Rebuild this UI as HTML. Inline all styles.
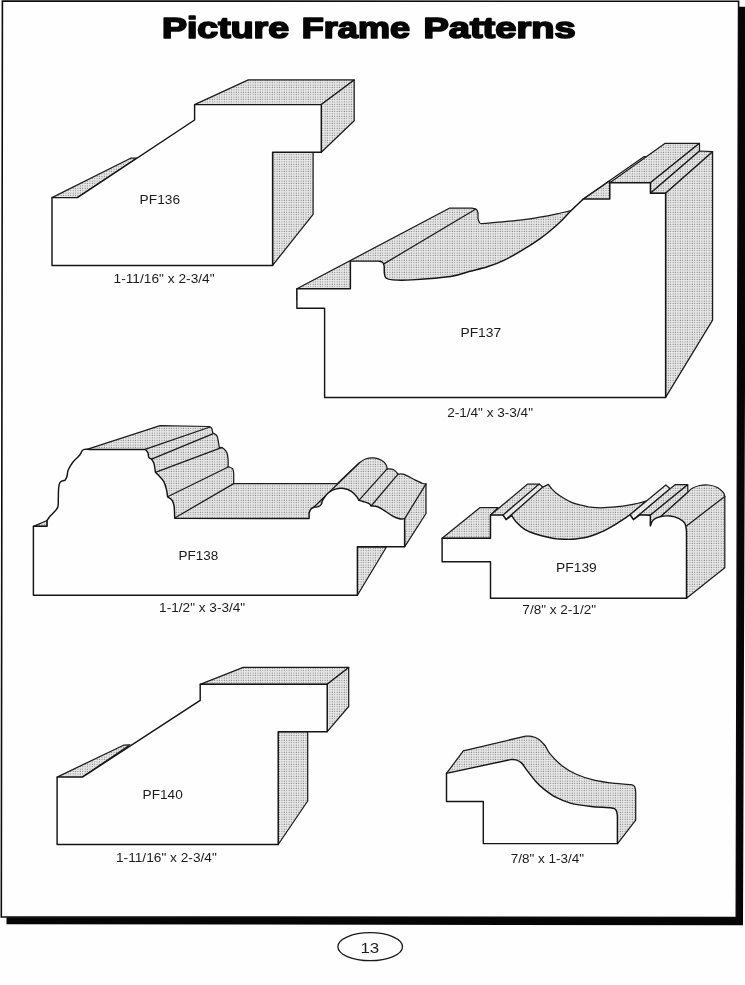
<!DOCTYPE html>
<html lang="en">
<head>
<meta charset="utf-8">
<title>Picture Frame Patterns</title>
<style>
html,body{margin:0;padding:0;background:#fefefe;}
body{width:745px;height:985px;overflow:hidden;position:relative;font-family:"Liberation Sans",sans-serif;}
svg{position:absolute;left:0;top:0;display:block;filter:grayscale(1);}
.g{fill:url(#ht);stroke:#1c1c1c;stroke-width:1.25;stroke-linejoin:round;}
.lg{fill:url(#htl);stroke:#1c1c1c;stroke-width:1.25;stroke-linejoin:round;}
.w{fill:#fefefe;stroke:#151515;stroke-width:1.45;stroke-linejoin:round;}
.ln{fill:none;stroke:#1c1c1c;stroke-width:1.25;stroke-linecap:round;stroke-linejoin:round;}
text{font-family:"Liberation Sans",sans-serif;fill:#1c1c1c;}
.title text{font-weight:bold;fill:#050505;stroke:#050505;stroke-width:1.7;stroke-linejoin:round;}
</style>
</head>
<body>
<svg width="745" height="985" viewBox="0 0 745 985">
<defs>
<pattern id="ht" width="2.4" height="2.4" patternUnits="userSpaceOnUse">
<rect width="2.4" height="2.4" fill="#eaeaea"/>
<rect x="0.6" y="0.6" width="1.05" height="1.05" fill="#7c7c7c"/>
</pattern>
<pattern id="htl" width="2.4" height="2.4" patternUnits="userSpaceOnUse">
<rect width="2.4" height="2.4" fill="#f3f3f3"/>
<rect x="0.6" y="0.6" width="1" height="1" fill="#b4b4b4"/>
</pattern>
</defs>
<!-- page frame with drop shadow -->
<polygon points="738.8,6.8 746.4,6.8 743,925.2 6.5,924.2 6.5,917.2 736.2,917.6" fill="#060606"/>
<polygon points="2.4,1.1 738.6,1.3 736.3,917.5 1.3,917" fill="#fefefe" stroke="#0c0c0c" stroke-width="1.6"/>
<!-- title -->
<g class="title">
<text x="161.9" y="37.8" textLength="127.16" lengthAdjust="spacingAndGlyphs" font-size="29.5">Picture</text>
<text x="301.84" y="37.8" textLength="108.16" lengthAdjust="spacingAndGlyphs" font-size="29.5">Frame</text>
<text x="423.4" y="37.8" textLength="152.22" lengthAdjust="spacingAndGlyphs" font-size="29.5">Patterns</text>
</g>
<!-- moulding profiles -->
<!-- PF136 -->
<path class="g" d="M52,197.6 L130.6,158.2 L136.6,158.2 L77.4,197.6 Z"/>
<path class="g" d="M194.6,104.6 L248.3,79.9 L354.2,79.9 L321.3,104.6 Z"/>
<path class="g" d="M321.3,104.6 L354.2,79.9 L354.2,120.8 L321.3,152.3 Z"/>
<path class="g" d="M272.6,152.3 L313.1,152.3 L313.1,214.3 L272.6,265.4 Z"/>
<path class="w" d="M52,265.4 L52,197.6 L77.4,197.6 L194.6,120 L194.6,104.6 L321.3,104.6 L321.3,152.3 L272.6,152.3 L272.6,265.4 Z"/>
<!-- PF140 -->
<path class="g" d="M57.1,777.1 L123.5,745.2 L130,744.8 L82.4,777.1 Z"/>
<path class="g" d="M200.2,684.3 L243.2,667.4 L348.7,667.4 L327.2,684.3 Z"/>
<path class="g" d="M327.2,684.3 L348.7,667.4 L348.7,706.5 L327.2,731.7 Z"/>
<path class="g" d="M278.2,731.7 L307.7,731.7 L307.7,801 L278.2,844.5 Z"/>
<path class="w" d="M57.1,844.5 L57.1,777.1 L82.4,777.1 L200.2,700.4 L200.2,684.3 L327.2,684.3 L327.2,731.7 L278.2,731.7 L278.2,844.5 Z"/>
<!-- PF137 -->
<path class="g" d="M296.9,288.8 L449.3,208.2 L472,208.2 C472.8,208.4 475.5,208.7 476.5,209.5 C477.5,210.3 477.8,212.4 478,213 L478,218.5 C478.2,219.1 478.5,221.5 479.3,222.3 C480.1,223.1 478.7,223.6 483,223.5 C487.3,223.4 498.3,222.2 504.9,221.6 C511.4,221 516.5,220.6 522.3,219.9 C528.1,219.2 534,218.2 539.8,217.2 C545.6,216.2 552,214.9 557.2,213.8 C562.4,212.7 568.9,211.1 571.2,210.6 L583.3,199.1 L583.3,300 L296.9,300 Z"/>
<path class="ln" d="M384.3,263.6 L475.5,209.2"/>
<path class="g" d="M583.3,199.1 L609.8,180.8 L609.8,199.1 Z"/>
<path class="ln" d="M583.3,199.1 L644.2,156.6 L647.5,156.6"/>
<path class="g" d="M609.8,182.7 L665.2,143.3 L699.5,143.3 L650.4,182.7 Z"/>
<path class="g" d="M650.4,182.7 L699.5,143.3 L699.5,151 L650.4,193.3 Z"/>
<path class="g" d="M650.4,193.3 L699.5,151 L712.6,151.7 L665.6,193.3 Z"/>
<path class="g" d="M665.6,193.3 L712.6,151.7 L712.6,320.1 L665.6,397.4 Z"/>
<path class="w" d="M324.6,397.4 L324.6,308.2 L296.9,308.2 L296.9,288.8 L350.4,288.8 L350.4,261.1 L378.4,261.1 C379.1,261.3 381.5,261.5 382.5,262.3 C383.5,263.1 383.9,265.4 384.2,266 L384.3,273 C384.6,273.8 384.6,276.9 386,278 C387.4,279.1 388.3,279.6 392.6,279.9 C396.9,280.2 402.2,280.5 411.9,279.9 C421.5,279.3 440.8,277.9 450.5,276.5 C460.2,275.1 463.9,272.9 470,271.3 C476.1,269.7 481.6,268.7 487.4,266.8 C493.2,264.9 499.1,262.6 504.9,259.8 C510.7,257 516.5,253.7 522.3,250.2 C528.1,246.7 534.8,242.4 539.8,238.9 C544.8,235.4 548.2,232.5 552,229.3 C555.8,226.1 559.3,222.8 562.5,219.7 C565.7,216.6 567.7,214 571.2,210.6 C574.7,207.2 581.3,201 583.3,199.1 L609.8,199.1 L609.8,182.7 L650.4,182.7 L650.4,193.3 L665.6,193.3 L665.6,397.4 Z"/>
<!-- PF138 -->
<path class="g" d="M33.4,526.3 L47.1,520.5 L47.1,526.3 Z"/>
<path class="g" d="M87,449.4 L160.1,425.7 L208.9,426.5 C209.4,426.8 211.1,427.1 211.7,428.2 C212.3,429.3 212.5,432.1 212.7,432.9 C213.4,433.4 215.9,434.3 216.8,435.7 C217.7,437.1 217.9,439.4 218.3,441.3 C218.7,443.2 219.1,446.3 219.3,447.3 C220,447.5 222.2,447.6 223.5,448.5 C224.8,449.4 226,450.8 226.8,452.6 C227.6,454.4 227.9,456.9 228.1,459.2 C228.3,461.5 228.1,465.4 228.1,466.7 C228.8,467 231.7,467.5 232.6,468.6 C233.5,469.7 233.5,472.5 233.7,473.3 L233.7,483.6 L337.3,483.6 L358.9,463.2 C360,462.5 363,459.9 365.5,459 C368,458.1 371.2,457.7 373.9,457.9 C376.6,458.1 379.4,459.1 381.5,460.3 C383.6,461.5 385.3,463.6 386.2,465 C387.1,466.4 387,468.2 387.1,468.8 C388.2,468.9 391.9,468.8 393.7,469.7 C395.5,470.6 397.3,473.4 398,474.1 C399,474.2 401.1,473.4 404,474.4 C406.9,475.4 412.2,478.6 415.3,480.1 C418.4,481.6 421,482.9 422.8,483.5 C424.6,484.1 425.5,483.8 426,483.8 L426,513.5 L404.6,546.8 L404.6,530 L87,530 Z"/>
<path class="ln" d="M145,449.4 L210,427"/>
<path class="ln" d="M151.6,459.2 L212.7,433.8"/>
<path class="ln" d="M155.4,472.3 L222.1,447.3"/>
<path class="ln" d="M167.6,496.8 L228.7,466.7"/>
<path class="ln" d="M174.7,518 L233.7,483.6"/>
<path class="ln" d="M313.8,507.3 L358.9,463.2"/>
<path class="ln" d="M358.9,500.4 L387.1,468.8"/>
<path class="ln" d="M371.1,506 L398,474.1"/>
<path class="ln" d="M404.6,518.8 L426,483.8"/>
<path class="g" d="M357.4,546.8 L386.6,546.8 L357.4,595.2 Z"/>
<path class="w" d="M33.4,595.2 L33.4,526.3 L47.1,526.3 L47.1,520.5 C47.5,519.8 48.5,518 49.8,516.5 C51,515 53.2,513.2 54.6,511.6 C56,510 57.3,508.9 57.9,506.8 C58.5,504.7 58.2,502 58.3,498.8 C58.4,495.6 58.4,490.3 58.7,487.5 C59,484.7 59.2,483.1 60.3,481.9 C61.4,480.7 64.3,480.5 65.1,480.2 C65.4,479.5 66.5,477.9 67,476.2 C67.5,474.5 67.3,472.2 68.3,469.8 C69.3,467.4 71.3,464.1 73.2,461.7 C75.1,459.3 78.1,457.1 79.6,455.3 C81.1,453.5 81.6,451.6 82,450.8 C82.4,450.6 83.2,449.6 84.4,449.4 C85.6,449.2 88.5,449.4 89.3,449.4 L145,449.4 C145.5,449.9 147.3,451.3 147.9,452.6 C148.5,453.9 148.2,456.2 148.8,457.3 C149.4,458.4 151.1,458.9 151.6,459.2 C152,460 153.5,461.7 154.1,463.9 C154.7,466.1 155.2,470.9 155.4,472.3 C155.9,472.8 156.8,473.5 158.2,475.1 C159.6,476.7 162.4,479.2 163.8,481.7 C165.2,484.2 166,487.7 166.6,490.2 C167.2,492.7 167.4,495.7 167.6,496.8 C168.4,497.4 171.2,498.8 172.3,500.5 C173.4,502.2 173.8,504.1 174.2,507.1 C174.6,510.1 174.6,516.4 174.7,518.3 L309.1,518.5 L309.1,513 C309.4,512.3 310.2,509.9 311,509 C311.8,508.1 312.6,507.7 313.8,507.3 C315.1,506.9 317.2,507.2 318.5,506.6 C319.8,506.1 320.9,505 321.5,504 C322.1,503 322.2,501.2 322.3,500.7 C323.2,499.4 325.7,495.1 327.9,493.2 C330.1,491.3 332.7,489.9 335.4,489.1 C338.1,488.3 341.2,488.1 343.9,488.5 C346.6,488.9 349.2,489.9 351.4,491.3 C353.6,492.7 355.8,495.5 357,497 C358.2,498.5 358.6,499.8 358.9,500.4 C359.7,500.6 361.9,501.2 363.6,501.7 C365.3,502.2 367.9,502.9 369.2,503.6 C370.4,504.3 370.8,505.6 371.1,506 C372.2,506.1 375.4,505.9 377.7,506.8 C380,507.7 382.7,509.5 385.2,511.1 C387.7,512.7 390.3,514.9 392.7,516.2 C395.1,517.5 397.3,518.4 399.3,518.8 C401.3,519.2 403.7,518.8 404.6,518.8 L404.6,546.8 L357.4,546.8 L357.4,595.2 Z"/>
<!-- PF139 -->
<path class="g" d="M442.1,538.3 L480.1,507.5 L498.2,507.5 L490.5,515.1 L490.5,538.3 Z"/>
<path class="g" d="M490.5,515.1 L527.7,484.1 L539.2,484.1 L503,515.1 Z"/>
<path class="lg" d="M503,515.1 L539.2,484.1 L542.8,487.1 L506,519.7 Z"/>
<path class="g" d="M506,519.7 L542.8,487.1 L548.4,484.4 C548.9,485.1 550.2,487.1 551.5,488.5 C552.8,489.9 554,491.2 556.1,492.9 C558.2,494.6 561.5,496.9 564.2,498.5 C566.9,500.1 569.5,501.5 572.2,502.6 C574.9,503.7 577.6,504.3 580.3,505 C583,505.7 585.6,506.4 588.3,506.9 C591,507.3 593.7,507.6 596.4,507.7 C599.1,507.8 601.7,507.8 604.4,507.7 C607.1,507.6 609.8,507.4 612.5,507.2 C615.2,507 617.8,506.7 620.5,506.4 C623.2,506.1 625.9,505.7 628.6,505.2 C631.3,504.7 634.4,504 636.7,503.5 C639.1,503 641.1,502.6 642.7,502.2 C644.3,501.8 645.9,501.2 646.5,501 L630,514.7 L630,545 L506,545 Z"/>
<path class="lg" d="M630,514.7 L665.8,485 L670.1,488.7 L633.4,519.7 Z"/>
<path class="g" d="M633.4,519.7 L670.1,488.7 L675.2,484.7 L687.7,484.7 L650.3,515.2 L639.9,514.9 Z"/>
<path class="g" d="M650.3,515.2 L687.7,484.7 L687.9,492.2 L650.3,526 Z"/>
<path class="g" d="M650.3,526 L687.9,492.2 C688.6,491.6 690.3,489.4 692.3,488.3 C694.3,487.2 697,486.1 699.7,485.5 C702.4,484.9 705.7,484.7 708.6,485 C711.5,485.3 714.9,486.2 717.4,487.5 C719.9,488.8 722.2,491.2 723.4,492.7 C724.6,494.2 724.6,495.8 724.8,496.4 L724.8,567.7 L686.5,598.2 L686.5,560 L650.3,560 Z"/>
<path class="ln" d="M686.5,525.9 L724.8,496.4"/>
<path class="w" d="M490.5,598.2 L490.5,561.7 L442.1,561.7 L442.1,538.3 L490.5,538.3 L490.5,515.1 L503,515.1 L506,519.7 L511.7,515.5 C512.5,516.6 514,519.8 516.2,522.1 C518.4,524.4 521.5,527.4 524.7,529.4 C527.9,531.4 531.7,532.7 535.6,534 C539.5,535.3 544.7,536.4 548.1,537.2 C551.5,538 553.4,538.4 556.1,538.8 C558.8,539.1 561.5,539.2 564.2,539.3 C566.9,539.4 569.5,539.5 572.2,539.3 C574.9,539.1 577.6,538.7 580.3,538.3 C583,537.9 585.6,537.4 588.3,536.7 C591,536 593.7,535 596.4,534 C599.1,533 601.7,532 604.4,530.7 C607.1,529.4 609.8,527.8 612.5,526.2 C615.2,524.6 618.1,522.7 620.5,521.1 C622.9,519.5 625.4,517.9 627,516.8 C628.6,515.7 629.5,515.1 630,514.7 L633.4,519.7 L639.9,514.9 L650.3,515.2 L650.3,526 C650.8,525 651.6,521.5 653.2,520 C654.8,518.5 657.1,517.5 659.9,516.8 C662.7,516.1 667,515.7 670.2,516 C673.4,516.3 676.6,517.3 679.1,518.6 C681.6,519.9 683.8,521.6 685,523.7 C686.2,525.8 686.2,529.9 686.5,531.1 L686.5,598.2 Z"/>
<!-- 7/8 x 1-3/4 -->
<path class="g" d="M446.5,773.4 L463.3,750.9 L524.6,736.3 C525.8,736.3 529.2,735.8 531.6,736.3 C534,736.8 536.5,737.7 538.7,739.2 C540.9,740.7 543.1,743.1 545,745.5 C546.9,747.9 547,750.3 549.8,753.6 C552.6,756.9 557.2,762 561.6,765.4 C566,768.8 570.9,771.8 576.3,774.3 C581.7,776.8 587.7,778.7 594.1,780.2 C600.5,781.7 608.6,782.7 614.7,783.4 C620.9,784.1 627.7,784 631,784.6 C634.3,785.2 633.9,785.6 634.7,786.8 C635.5,788 635.5,791.1 635.7,792 L635.7,820.1 L617.4,843.8 L610,830 L490,830 L490,790 L450,790 Z"/>
<path class="w" d="M483.3,843.6 L483.3,801.4 L446.5,801.4 L446.5,773.4 L510.5,759.6 C511.4,759.6 514.2,759.3 516.1,759.9 C518,760.5 519.8,761.3 521.7,763.1 C523.6,764.9 525,767.9 527.4,770.9 C529.8,773.9 533,778.4 535.8,781.4 C538.5,784.4 540.6,786.5 543.9,789.1 C547.2,791.7 551.3,794.9 555.7,797.2 C560.1,799.5 564.5,801.6 570.4,803.1 C576.3,804.6 584.2,805.7 591.1,806.5 C598,807.3 607.6,807.3 611.8,808 C616,808.7 615.3,809.2 616.2,810.5 C617.1,811.8 617.2,814.8 617.4,815.6 L617.4,843.6 Z"/>
<!-- labels -->
<text x="139.58" y="203.7" textLength="40.48" lengthAdjust="spacingAndGlyphs" font-size="12.8">PF136</text>
<text x="113.52" y="283.1" textLength="101.1" lengthAdjust="spacingAndGlyphs" font-size="12.8">1-11/16&quot; x 2-3/4&quot;</text>
<text x="460.46" y="337.1" textLength="40.72" lengthAdjust="spacingAndGlyphs" font-size="12.8">PF137</text>
<text x="447.2" y="416.8" textLength="85.8" lengthAdjust="spacingAndGlyphs" font-size="12.8">2-1/4&quot; x 3-3/4&quot;</text>
<text x="178.52" y="559.7" textLength="39.72" lengthAdjust="spacingAndGlyphs" font-size="12.8">PF138</text>
<text x="159.14" y="612.4" textLength="86.04" lengthAdjust="spacingAndGlyphs" font-size="12.8">1-1/2&quot; x 3-3/4&quot;</text>
<text x="556.08" y="571.8" textLength="40.72" lengthAdjust="spacingAndGlyphs" font-size="12.8">PF139</text>
<text x="522.38" y="613.7" textLength="73.62" lengthAdjust="spacingAndGlyphs" font-size="12.8">7/8&quot; x 2-1/2&quot;</text>
<text x="142.64" y="798.8" textLength="40.16" lengthAdjust="spacingAndGlyphs" font-size="12.8">PF140</text>
<text x="115.96" y="862.4" textLength="100.84" lengthAdjust="spacingAndGlyphs" font-size="12.8">1-11/16&quot; x 2-3/4&quot;</text>
<text x="510.76" y="862.6" textLength="73.36" lengthAdjust="spacingAndGlyphs" font-size="12.8">7/8&quot; x 1-3/4&quot;</text>
<!-- page number -->
<ellipse cx="370.2" cy="946.7" rx="32.3" ry="14" fill="none" stroke="#1a1a1a" stroke-width="1.3"/>
<text x="360.46" y="953.4" textLength="18.84" lengthAdjust="spacingAndGlyphs" font-size="15.5">13</text>
</svg>
</body>
</html>
